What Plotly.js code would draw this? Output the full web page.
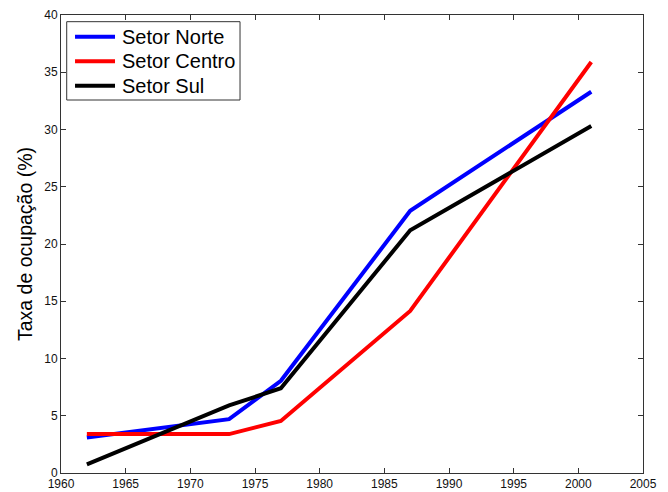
<!DOCTYPE html>
<html>
<head>
<meta charset="utf-8">
<script src="https://cdn.plot.ly/plotly-3.0.1.min.js"></script>
<style>html,body{margin:0;padding:0;background:#fff}#chart{width:668px;height:492px}</style>
</head>
<body>
<div id="chart"></div>
<script>
const years = [1962, 1973, 1977, 1987, 2001];
const norte = [3.1, 4.7, 8.05, 22.9, 33.3];
const centro = [3.4, 3.4, 4.55, 14.15, 35.9];
const sul = [0.75, 5.9, 7.4, 21.2, 30.3];
const names = ['Setor Norte', 'Setor Centro', 'Setor Sul'];
const colors = ['#0000ff', '#ff0000', '#000000'];
const xTicks = [1960, 1965, 1970, 1975, 1980, 1985, 1990, 1995, 2000, 2005];
const yTicks = [0, 5, 10, 15, 20, 25, 30, 35, 40];

const traces = [norte, centro, sul].map((ys, i) => ({
  x: years, y: ys, type: 'scatter', mode: 'lines', name: names[i],
  line: {color: colors[i], width: 4}, showlegend: false
}));

// MATLAB-style legend box built from the names/colors (paper coordinates)
const leg = {x0: 0.0098, x1: 0.3076, y0: 0.8144, y1: 0.9854,
  rowTop: 0.9526, rowStep: 0.0535, lineX0: 0.0241, lineX1: 0.0928, textX: 0.1010};
const shapes = [{type: 'rect', xref: 'paper', yref: 'paper', x0: leg.x0, x1: leg.x1, y0: leg.y0, y1: leg.y1,
  line: {color: '#333', width: 1}, fillcolor: '#fff', layer: 'above'}];
const annotations = [];
names.forEach((n, i) => {
  const yy = leg.rowTop - i * leg.rowStep;
  shapes.push({type: 'line', xref: 'paper', yref: 'paper', x0: leg.lineX0, x1: leg.lineX1, y0: yy, y1: yy,
    line: {color: colors[i], width: 4}, layer: 'above'});
  annotations.push({xref: 'paper', yref: 'paper', x: leg.textX, y: yy, xanchor: 'left', yanchor: 'middle',
    text: n, showarrow: false, font: {size: 20, color: '#000'}});
});

const axisCommon = {
  showgrid: false, zeroline: false, showline: true, linecolor: '#333', linewidth: 1,
  mirror: 'ticks', ticks: 'inside', ticklen: 5, tickcolor: '#333',
  tickfont: {family: 'Liberation Sans, Arial, sans-serif', size: 12, color: '#111'}
};

const layout = {
  width: 668, height: 492,
  margin: {l: 61, r: 25, t: 15, b: 19},
  paper_bgcolor: '#fff', plot_bgcolor: '#fff',
  font: {family: 'Liberation Sans, Arial, sans-serif', color: '#000'},
  xaxis: Object.assign({}, axisCommon, {range: [1960, 2005], tickvals: xTicks}),
  yaxis: Object.assign({}, axisCommon, {range: [0, 40], tickvals: yTicks,
    title: {text: 'Taxa de ocupação (%)', font: {size: 19.5}, standoff: 6}}),
  showlegend: false,
  shapes: shapes,
  annotations: annotations
};

Plotly.newPlot('chart', traces, layout, {displayModeBar: false, staticPlot: true});
</script>
</body>
</html>
